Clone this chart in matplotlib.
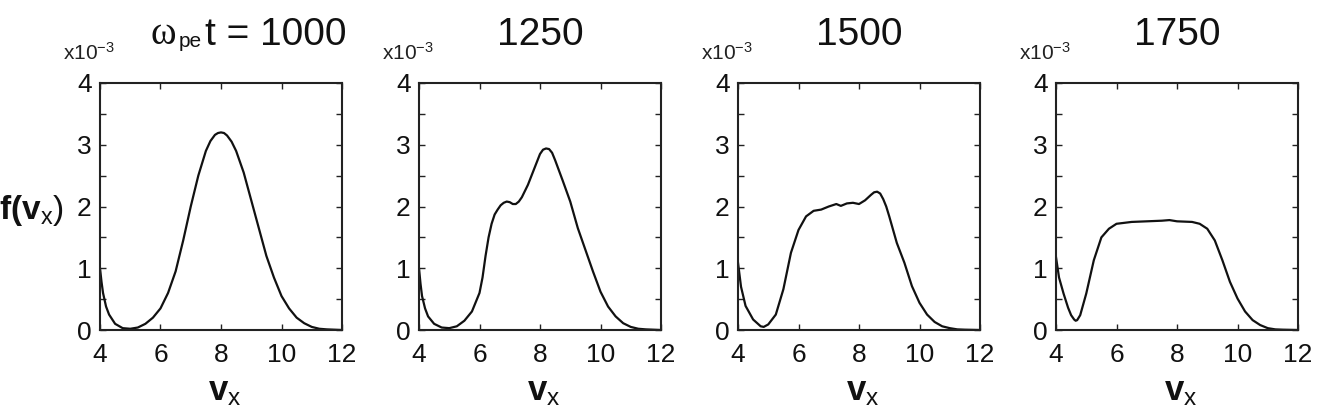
import numpy as np
import matplotlib
matplotlib.use('Agg')
import matplotlib.pyplot as plt

plt.rcParams['font.family'] = ['Liberation Sans', 'DejaVu Sans']
plt.rcParams['mathtext.fontset'] = 'custom'
plt.rcParams['mathtext.rm'] = 'Liberation Sans'
plt.rcParams['mathtext.bf'] = 'Liberation Sans:bold'
plt.rcParams['mathtext.it'] = 'Liberation Sans:italic'

# f(v_x) in units of 1e-3
titles = ['1000', '1250', '1500', '1750']

v_1000 = [4.0, 4.05, 4.1, 4.2, 4.3, 4.5, 4.75, 5.0, 5.25, 5.5, 5.75, 6.0, 6.25, 6.5, 6.75, 7.0,
          7.25, 7.5, 7.65, 7.8, 7.9, 8.0, 8.1, 8.2, 8.35, 8.5, 8.75, 9.0, 9.25, 9.5, 9.75, 10.0,
          10.25, 10.5, 10.75, 11.0, 11.25, 11.5, 12.0]
f_1000 = [1.0, 0.78, 0.6, 0.38, 0.25, 0.1, 0.03, 0.02, 0.04, 0.1, 0.2, 0.35, 0.6, 0.95, 1.45,
          2.0, 2.5, 2.9, 3.06, 3.16, 3.19, 3.2, 3.19, 3.15, 3.05, 2.9, 2.55, 2.1, 1.65, 1.2, 0.85,
          0.55, 0.35, 0.2, 0.11, 0.05, 0.02, 0.01, 0.0]

v_1250 = [4.0, 4.05, 4.1, 4.2, 4.3, 4.5, 4.75, 5.0, 5.25, 5.5, 5.75, 6.0, 6.1, 6.2, 6.3, 6.4,
          6.5, 6.6, 6.7, 6.8, 6.9, 7.0, 7.1, 7.2, 7.3, 7.4, 7.6, 7.8, 8.0, 8.1, 8.2, 8.3, 8.4, 8.5,
          8.75, 9.0, 9.25, 9.5, 9.75, 10.0, 10.25, 10.5, 10.75, 11.0, 11.25, 11.5, 12.0]
f_1250 = [1.0, 0.75, 0.55, 0.35, 0.22, 0.1, 0.04, 0.03, 0.06, 0.15, 0.3, 0.6, 0.85, 1.2, 1.5,
          1.72, 1.87, 1.95, 2.02, 2.06, 2.08, 2.07, 2.04, 2.04, 2.08, 2.15, 2.35, 2.6, 2.85, 2.92,
          2.94, 2.93, 2.87, 2.75, 2.42, 2.08, 1.65, 1.3, 0.95, 0.62, 0.38, 0.22, 0.11, 0.05, 0.02,
          0.01, 0.0]

v_1500 = [4.0, 4.1, 4.25, 4.5, 4.75, 4.85, 5.0, 5.25, 5.5, 5.75, 6.0, 6.25, 6.5, 6.75, 7.0,
          7.25, 7.4, 7.6, 7.8, 8.0, 8.2, 8.4, 8.5, 8.6, 8.7, 8.8, 8.9, 9.0, 9.25, 9.5, 9.75, 10.0,
          10.25, 10.5, 10.75, 11.0, 11.25, 11.5, 12.0]
f_1500 = [1.09, 0.7, 0.39, 0.17, 0.06, 0.05, 0.09, 0.25, 0.66, 1.25, 1.62, 1.84, 1.93, 1.95,
          2.0, 2.04, 2.01, 2.05, 2.06, 2.04, 2.1, 2.19, 2.23, 2.24, 2.21, 2.12, 2.0, 1.84, 1.41,
          1.09, 0.71, 0.44, 0.25, 0.13, 0.06, 0.03, 0.01, 0.005, 0.0]

v_1750 = [4.0, 4.1, 4.25, 4.4, 4.5, 4.6, 4.65, 4.7, 4.8, 5.0, 5.25, 5.5, 5.75, 6.0, 6.5, 7.0,
          7.5, 7.75, 8.0, 8.5, 8.75, 9.0, 9.25, 9.5, 9.75, 10.0, 10.25, 10.5, 10.75, 11.0, 11.25,
          11.5, 12.0]
f_1750 = [1.18, 0.85, 0.59, 0.36, 0.24, 0.17, 0.15, 0.16, 0.24, 0.59, 1.13, 1.5, 1.64, 1.72,
          1.75, 1.76, 1.77, 1.78, 1.76, 1.75, 1.72, 1.64, 1.45, 1.13, 0.78, 0.51, 0.3, 0.16, 0.08,
          0.03, 0.01, 0.005, 0.0]

series = [(v_1000, f_1000), (v_1250, f_1250), (v_1500, f_1500), (v_1750, f_1750)]

W, H = 1330, 417
fig = plt.figure(figsize=(W / 100, H / 100), dpi=100)

lefts = [100, 419, 738, 1056]
ax_w, ax_top, ax_bot = 242, 83, 330
dark = '#222222'

for i, (left, (v, f)) in enumerate(zip(lefts, series)):
    ax = fig.add_axes([left / W, 1 - ax_bot / H, ax_w / W, (ax_bot - ax_top) / H])
    ax.plot(v, f, color='#111111', lw=1.6, solid_joinstyle='round')
    ax.set_xlim(4, 12)
    ax.set_ylim(0, 4)
    ax.set_xticks([4, 6, 8, 10, 12])
    ax.set_yticks([0, 1, 2, 3, 4])
    ax.set_yticks(np.arange(0.5, 4, 1.0), minor=True)
    ax.tick_params(which='both', direction='in', top=True, right=True, color=dark, width=1)
    ax.tick_params(which='major', length=4, labelsize=19, labelcolor='#111111')
    ax.tick_params(axis='x', which='major', pad=9)
    ax.tick_params(axis='y', which='major', pad=6)
    ax.tick_params(which='minor', length=4)
    for s in ax.spines.values():
        s.set_color(dark)
        s.set_linewidth(1.5)
    cx = (left + ax_w / 2) / W
    fig.text(cx + 4 / W, 1 - 400 / H, r'$\mathbf{v}_{\mathrm{x}}$', fontsize=25, ha='center',
             va='baseline', color='#111111')
    fig.text((left - 37) / W, 1 - 60 / H, r'x10$^{-3}$', fontsize=15, ha='left', va='baseline',
             color='#222222')
    if i > 0:
        fig.text(cx, 1 - 45 / H, titles[i], fontsize=28, ha='center', va='baseline', color='#111111')

# first title: omega_pe t = 1000
fig.text(151 / W, 1 - 44 / H, '\u03c9', fontsize=28, family='Liberation Serif', ha='left',
         va='baseline', color='#111111')
fig.text(179 / W, 1 - 47 / H, 'pe', fontsize=15, ha='left', va='baseline', color='#111111')
fig.text(205 / W, 1 - 45 / H, 't = ' + titles[0], fontsize=28, ha='left', va='baseline',
         color='#111111')

fig.text(64 / W, 1 - 210 / H, r'$\mathbf{f(v}_{\mathrm{x}}\mathrm{)}$', fontsize=24, ha='right',
         va='center', color='#111111')

fig.savefig('out.png', dpi=100)
